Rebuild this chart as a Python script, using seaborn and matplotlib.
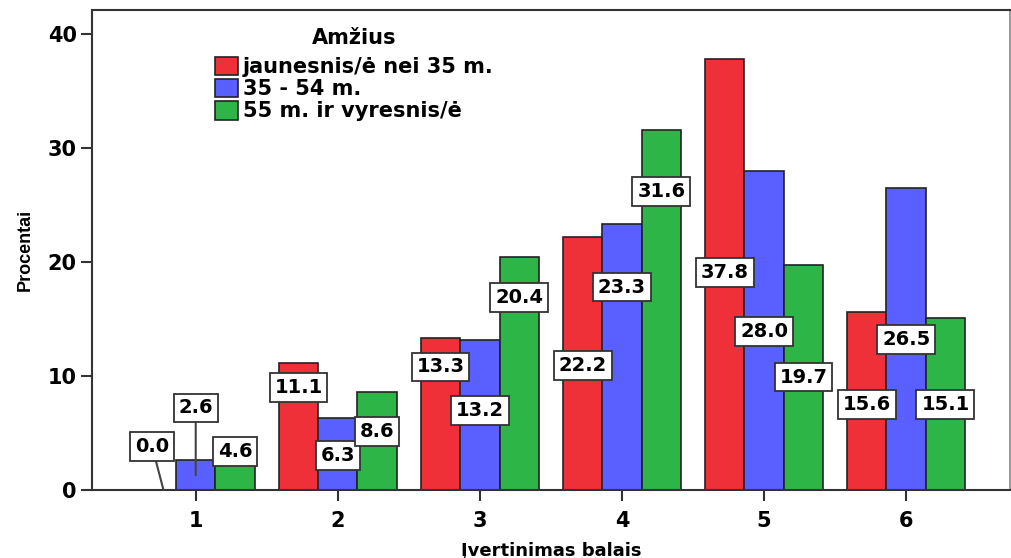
import matplotlib
matplotlib.use("Agg")
import matplotlib.pyplot as plt
import seaborn as sns
import pandas as pd

categories = ["1", "2", "3", "4", "5", "6"]
groups = ["jaunesnis/ė nei 35 m.", "35 - 54 m.", "55 m. ir vyresnis/ė"]
young = [0.0, 11.1, 13.3, 22.2, 37.8, 15.6]
middle = [2.6, 6.3, 13.2, 23.3, 28.0, 26.5]
older = [4.6, 8.6, 20.4, 31.6, 19.7, 15.1]
y_ticks = [0, 10, 20, 30, 40]

# label box heights (data units), as placed in the reference
label_pos = [
    [3.8, 7.2, 3.4],
    [9.0, 3.0, 5.1],
    [10.8, 7.0, 16.9],
    [10.9, 17.8, 26.2],
    [19.1, 13.9, 9.9],
    [7.5, 13.2, 7.5],
]

colors = ["#EF3038", "#5A5FFF", "#2EB548"]

rows = []
for g, vals in zip(groups, [young, middle, older]):
    for c, v in zip(categories, vals):
        rows.append({"cat": c, "grp": g, "val": v})
df = pd.DataFrame(rows)

sns.set_theme(style="white")
plt.rcParams["font.family"] = ["DejaVu Sans"]
plt.rcParams["text.color"] = "black"
plt.rcParams["axes.labelcolor"] = "black"
plt.rcParams["xtick.labelcolor"] = "black"
plt.rcParams["ytick.labelcolor"] = "black"

fig = plt.figure(figsize=(10.12, 5.58), dpi=100)
ax = fig.add_axes([0.0909, 0.1219, 0.907, 0.860])

width = 0.83
sns.barplot(data=df, x="cat", y="val", hue="grp", order=categories,
            hue_order=groups, palette=colors, width=width, gap=0,
            edgecolor="#222222", linewidth=1.2, ax=ax, saturation=1)

ax.set_xlim(-0.73, 5.73)
ax.set_ylim(0, 42.1)
ax.set_yticks(y_ticks)
ax.set_yticklabels([str(t) for t in y_ticks], fontsize=15, fontweight="bold")
ax.set_xticks(range(len(categories)))
ax.set_xticklabels(categories, fontsize=15, fontweight="bold")
ax.tick_params(axis="both", direction="out", length=8, width=1.5,
               color="#333333", left=True, bottom=True)
ax.tick_params(axis="x", pad=7)
ax.tick_params(axis="y", pad=3)
for s in ["left", "bottom", "top"]:
    ax.spines[s].set_color("#333333")
    ax.spines[s].set_linewidth(1.5)
ax.spines["right"].set_color("#888888")
ax.spines["right"].set_linewidth(1.2)

ax.set_ylabel("Procentai", fontsize=13, fontweight="bold",
              family=["Liberation Sans"], labelpad=10)
ax.set_xlabel("Įvertinimas balais", fontsize=13, fontweight="bold",
              family=["DejaVu Sans"], labelpad=8)

bw = width / 3
box = dict(boxstyle="square,pad=0.25", fc="white", ec="#333333", lw=1.3)
all_vals = [young, middle, older]
for i in range(len(categories)):
    for j in range(3):
        v = all_vals[j][i]
        x = i + (j - 1) * bw
        ly = label_pos[i][j]
        txt = f"{v:.1f}"
        if ly > v:
            target = (x + 0.05, 0) if v == 0 else (x, v * 0.5)
            ax.annotate(txt, xy=target, xytext=(x - (0.03 if v == 0 else 0), ly),
                        ha="center", va="center", color="black",
                        fontsize=14, fontweight="bold", bbox=box, zorder=5,
                        arrowprops=dict(arrowstyle="-", color="#444444", lw=1.5,
                                        shrinkA=0, shrinkB=0))
        else:
            ax.text(x, ly, txt, ha="center", va="center", fontsize=14,
                    color="black", fontweight="bold", bbox=box, zorder=5)

leg = ax.legend(title="Amžius", loc="upper left", bbox_to_anchor=(0.134, 0.962),
                frameon=False, fontsize=15, title_fontsize=15,
                handlelength=1.1, handleheight=1.0, labelspacing=0.08,
                handletextpad=0.25, borderaxespad=0, borderpad=0)
leg.get_title().set_fontweight("bold")
for t in leg.get_texts():
    t.set_fontweight("bold")
leg._legend_box.align = "center"
leg._legend_box.sep = 6

fig.savefig("out.png", dpi=100)
